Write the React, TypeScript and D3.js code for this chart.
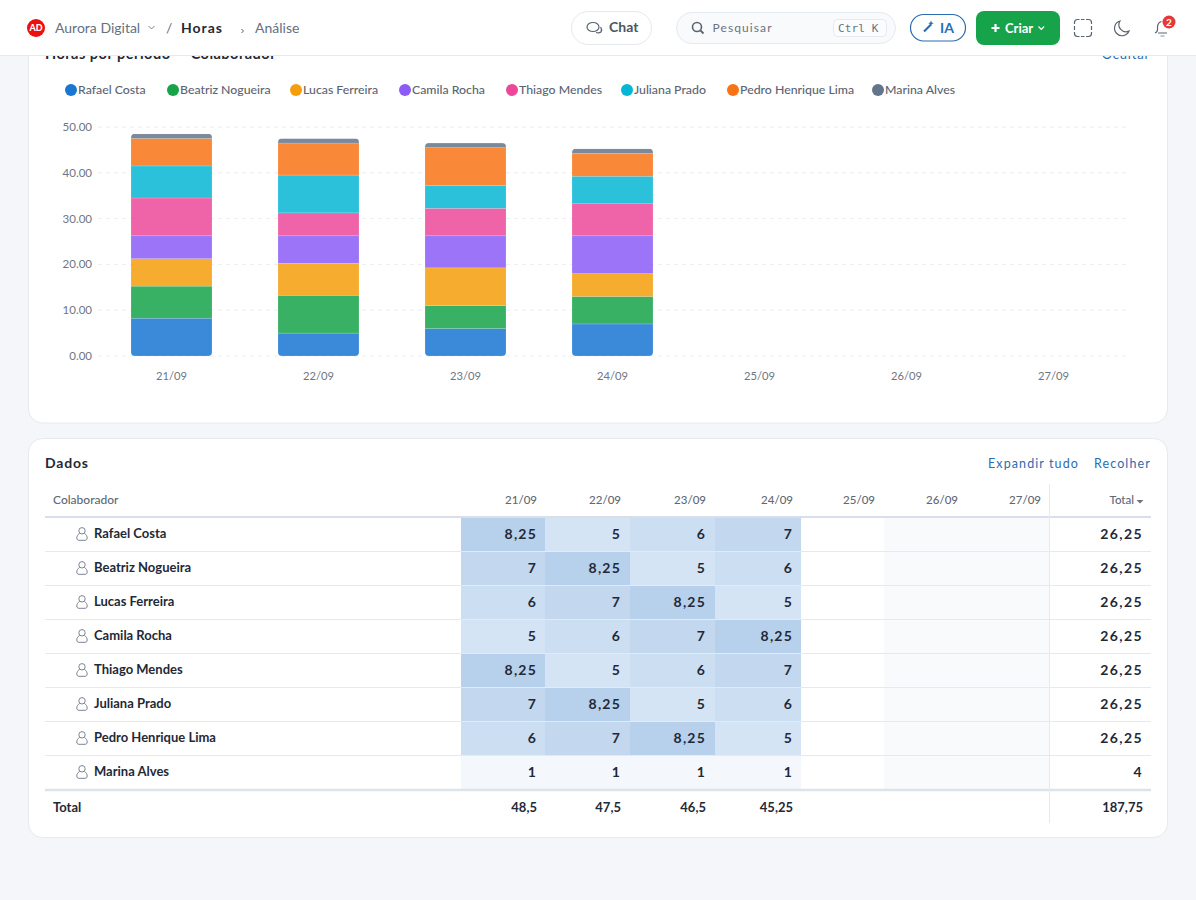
import React from "react";
import * as d3 from "d3";

const days = ["21/09", "22/09", "23/09", "24/09", "25/09", "26/09", "27/09"];
const people = ["Rafael Costa", "Beatriz Nogueira", "Lucas Ferreira", "Camila Rocha", "Thiago Mendes", "Juliana Prado", "Pedro Henrique Lima", "Marina Alves"];
const rafael = [8.25, 5, 6, 7];
const beatriz = [7, 8.25, 5, 6];
const lucas = [6, 7, 8.25, 5];
const camila = [5, 6, 7, 8.25];
const thiago = [8.25, 5, 6, 7];
const juliana = [7, 8.25, 5, 6];
const pedro = [6, 7, 8.25, 5];
const marina = [1, 1, 1, 1];
const seriesValues = [rafael, beatriz, lucas, camila, thiago, juliana, pedro, marina];
const colors = ["#1976d2", "#16a34a", "#f59e0b", "#8b5cf6", "#ec4899", "#06b6d4", "#f97316", "#64748b"];
const yTicks = [0, 10, 20, 30, 40, 50];

const FONT = "Lato, 'Noto Sans', sans-serif";
const legendDotX = [71, 173, 296, 405, 512, 627, 733, 878];
const colRight = [537, 621, 706, 793, 875, 958, 1041];
const colEdges = [461, 545, 630, 715, 801, 884, 967, 1049];
const ROW0 = 518;
const ROWH = 34;

const fmt = (v: number) => String(v).replace(".", ",");

const x = d3.scaleBand<string>().domain(days).range([98, 1127]).paddingInner(0.449).paddingOuter(0.2245);
const y = d3.scaleLinear().domain([0, 50]).range([356, 127]);
const heat = d3.scaleLinear<string>().domain([0, 1, 5, 8.25]).range(["#ffffff", "#f4f8fc", "#d5e4f5", "#b7d0ec"]);

const stackRows = days.map((d, i) => {
  const r: Record<string, number | string> = { day: d };
  people.forEach((p, j) => { r[p] = seriesValues[j][i] ?? 0; });
  return r;
});
const stacked = d3.stack<any>().keys(people)(stackRows);
const dayTotal = days.map((_, i) => seriesValues.reduce((a, s) => a + (s[i] ?? 0), 0));
const personTotal = seriesValues.map((s) => d3.sum(s));
const grand = d3.sum(personTotal);

function Person({ x0, y0 }: { x0: number; y0: number }) {
  return (
    <g transform={`translate(${x0},${y0})`} fill="none" stroke="#7b8494" strokeWidth={1}>
      <circle cx={6} cy={3.8} r={3.2} />
      <path d="M3.6 6.4 C1.6 7.6 .8 9.4 .8 11 C.8 12.6 1.8 13.3 3 13.3 H9 C10.2 13.3 11.2 12.6 11.2 11 C11.2 9.4 10.4 7.6 8.4 6.4" />
    </g>
  );
}

export default function App() {
  return (
    <svg width={1196} height={900} viewBox="0 0 1196 900" style={{ position: "absolute", left: 0, top: 0, fontFamily: FONT }}>
      <defs>
        {days.slice(0, 4).map((d, i) => (
          <clipPath id={`bar${i}`} key={d}>
            <rect x={x(d)} y={y(dayTotal[i])} width={x.bandwidth()} height={y(0) - y(dayTotal[i])} rx={4} />
          </clipPath>
        ))}
      </defs>
      <rect width={1196} height={900} fill="#f4f6fa" />

      {/* chart card */}
      <rect x={28.5} y={20.5} width={1139} height={402.5} rx={14} fill="#fff" stroke="#e6e9ef" />
      <text x={45} y={59} fontSize={14.5} fontWeight={700} letterSpacing={0.5} fill="#1f2937">Horas por período — Colaborador</text>
      <text x={1150} y={59} fontSize={13} textAnchor="end" letterSpacing={0.8} fill="#2b6cb0">Ocultar</text>

      {people.map((p, i) => (
        <g key={p}>
          <circle cx={legendDotX[i]} cy={90} r={6} fill={colors[i]} />
          <text x={legendDotX[i] + 7} y={94} fontSize={12.3} fontWeight={500} fill="#5b6472">{p}</text>
        </g>
      ))}

      {yTicks.map((t) => (
        <g key={t}>
          <line x1={98} x2={1127} y1={y(t)} y2={y(t)} stroke="#eceef2" strokeDasharray="4 4" />
          <text x={92} y={y(t) + 4} fontSize={11.5} textAnchor="end" fill="#6f7683">{t.toFixed(2)}</text>
        </g>
      ))}
      {days.map((d) => (
        <text key={d} x={x(d)! + x.bandwidth() / 2} y={380} fontSize={11.2} textAnchor="middle" fill="#6f7683">{d}</text>
      ))}
      {days.slice(0, 4).map((d, i) => (
        <g key={d} clipPath={`url(#bar${i})`}>
          {stacked.map((s, j) => (
            <rect key={j} x={x(d)} y={y(s[i][1])} width={x.bandwidth()} height={y(s[i][0]) - y(s[i][1])}
              fill={colors[j]} fillOpacity={0.85} stroke="#fff" strokeOpacity={0.25} strokeWidth={0.6} />
          ))}
        </g>
      ))}

      {/* table card */}
      <rect x={28.5} y={438.5} width={1139} height={399} rx={14} fill="#fff" stroke="#e6e9ef" />
      <text x={45} y={468} fontSize={14} fontWeight={700} letterSpacing={0.8} fill="#1f2937">Dados</text>
      <text x={988} y={468} fontSize={12.5} letterSpacing={1.1} fill="#2b6cb0">Expandir tudo</text>
      <text x={1094} y={468} fontSize={12.5} letterSpacing={1.1} fill="#2b6cb0">Recolher</text>

      <text x={53} y={504} fontSize={12} fontWeight={500} fill="#5f6875">Colaborador</text>
      {days.map((d, i) => (
        <text key={d} x={colRight[i]} y={504} fontSize={11.5} fontWeight={500} textAnchor="end" fill="#5f6875">{d}</text>
      ))}
      <text x={1134} y={504} fontSize={11.5} fontWeight={500} textAnchor="end" fill="#5f6875">Total</text>
      <path d="M1136.500 500 h7 l-3.500 3.500 z" fill="#6b7280" />

      {/* weekend shading */}
      <rect x={colEdges[5]} y={ROW0} width={colEdges[7] - colEdges[5]} height={ROWH * people.length - 1} fill="#f8fafc" />

      {people.map((p, r) => {
        const top = ROW0 + r * ROWH;
        return (
          <g key={p}>
            {seriesValues[r].map((v, c) => (
              <g key={c}>
                <rect x={colEdges[c]} y={top} width={colEdges[c + 1] - colEdges[c]} height={ROWH - 1} fill={heat(v)} />
                <text x={colRight[c]} y={top + 21} fontSize={14} fontWeight={700} letterSpacing={1.2} textAnchor="end" fill="#1f2937">{fmt(v)}</text>
              </g>
            ))}
            <Person x0={76} y0={top + 9} />
            <text x={94} y={top + 20} fontSize={13} fontWeight={700} fill="#1f2937">{p}</text>
            <text x={1143} y={top + 21} fontSize={14} fontWeight={700} letterSpacing={1.4} textAnchor="end" fill="#1f2937">{fmt(personTotal[r])}</text>
            {r < people.length - 1 && <line x1={45} x2={1151} y1={top + ROWH - 0.5} y2={top + ROWH - 0.5} stroke="#e6e9ef" />}
          </g>
        );
      })}
      <line x1={45} x2={1151} y1={517} y2={517} stroke="#d8dfea" strokeWidth={2} />
      <line x1={45} x2={1151} y1={790} y2={790} stroke="#dde3ea" strokeWidth={2.5} />
      <line x1={1049.5} x2={1049.5} y1={484} y2={823} stroke="#e6e9ef" />

      <text x={53} y={812} fontSize={13} fontWeight={700} fill="#1f2937">Total</text>
      {days.slice(0, 4).map((d, i) => (
        <text key={d} x={colRight[i]} y={812} fontSize={13} fontWeight={700} textAnchor="end" fill="#1f2937">{fmt(dayTotal[i])}</text>
      ))}
      <text x={1143} y={812} fontSize={13} fontWeight={700} textAnchor="end" fill="#1f2937">{fmt(grand)}</text>

      {/* top bar */}
      <rect x={0} y={0} width={1196} height={55.500} fill="#fff" />
      <line x1={0} x2={1196} y1={55.500} y2={55.500} stroke="#e6e9ef" />
      <circle cx={36} cy={28} r={9} fill="#ee0f0f" />
      <text x={36} y={31.200} fontSize={9} fontWeight={900} textAnchor="middle" fill="#fff">AD</text>
      <text x={55} y={32.500} fontSize={14} fill="#667080">Aurora Digital</text>
      <path d="M148.500 26 l3 3 l3 -3" fill="none" stroke="#7b8494" />
      <text x={166} y={32.500} fontSize={14} fill="#667080">/</text>
      <text x={181} y={32.500} fontSize={14} fontWeight={700} letterSpacing={1} fill="#1f2937">Horas</text>
      <path d="M241.500 29 l2 2 l-2 2" fill="none" stroke="#5b6472" />
      <text x={255} y={32.500} fontSize={14} fill="#667080">Análise</text>

      <rect x={571.500} y={11.500} width={80} height={33} rx={16.500} fill="#fff" stroke="#e6e9ef" />
      <g fill="none" stroke="#5b6472" strokeWidth={1.2}>
        <ellipse cx={593} cy={27} rx={6} ry={4.500} />
        <path d="M596 32.500 q3 1 5 -.5 q1.500 -2.500 -.5 -5" />
      </g>
      <text x={609} y={32} fontSize={14} fontWeight={700} fill="#4b5563">Chat</text>

      <rect x={676.500} y={12.500} width={219} height={31} rx={15.500} fill="#f8fafc" stroke="#e6e9ef" />
      <circle cx={697} cy={27} r={4.500} fill="none" stroke="#5b6472" strokeWidth={1.600} />
      <line x1={700.500} y1={30.500} x2={703.500} y2={33.500} stroke="#5b6472" strokeWidth={1.800} />
      <text x={712.500} y={32} fontSize={12} letterSpacing={1.1} fill="#6b7280">Pesquisar</text>
      <rect x={833.500} y={19.500} width={53} height={17} rx={4} fill="#fbfcfd" stroke="#e6e9ef" />
      <text x={838} y={31.500} fontSize={11} fontFamily="'DejaVu Sans Mono', monospace" letterSpacing={0.15} fill="#6b7280">Ctrl K</text>

      <rect x={910.500} y={14.500} width={55} height={26.500} rx={13.200} fill="#fff" stroke="#2b6cb0" strokeWidth={1.200} />
      <line x1={924} y1={31.500} x2={931} y2={24.500} stroke="#2b6cb0" strokeWidth={2.200} />
      <path d="M931 20.500 l.8 2 l2 .8 l-2 .8 l-.8 2 l-.8 -2 l-2 -.8 l2 -.8z" fill="#2b6cb0" />
      <text x={940} y={33} fontSize={14} fontWeight={700} fill="#2272bd">IA</text>

      <rect x={976} y={11} width={84} height={34} rx={8} fill="#16a34a" />
      <path d="M995.500 24 v8 M991.500 28 h8" stroke="#fff" strokeWidth={2.200} />
      <text x={1005} y={32.500} fontSize={13} fontWeight={700} fill="#fff">Criar</text>
      <path d="M1038.500 26.500 l2.800 2.800 l2.800 -2.800" fill="none" stroke="#fff" strokeWidth={1.200} />

      <g fill="none" stroke="#5b6472" strokeWidth={1.200}>
        <path d="M1074.500 24 v-1.500 a3 3 0 0 1 3 -3 h2 M1086 19.500 h2.500 a3 3 0 0 1 3 3 v1.500 M1091.500 32 v1.500 a3 3 0 0 1 -3 3 h-2.500 M1079.500 36.500 h-2 a3 3 0 0 1 -3 -3 v-1.500" />
        <path d="M1074.500 26 v4 M1091.500 26 v4 M1081 19.500 h3.500 M1081 36.500 h3.500" />
        <path d="M1120 21 a7.500 7.500 0 1 0 9 10 a7 7 0 0 1 -9 -10z" />
        <path d="M1155 33 q3 -1 2.500 -5.500 q0 -5 4 -6 M1158 33 h9" />
        <path d="M1160.500 36 h4" stroke="#9aa2ae" />
      </g>
      <circle cx={1169} cy={22} r={6.500} fill="#e53935" />
      <text x={1169} y={25.500} fontSize={10} fontWeight={700} textAnchor="middle" fill="#fff">2</text>
    </svg>
  );
}
